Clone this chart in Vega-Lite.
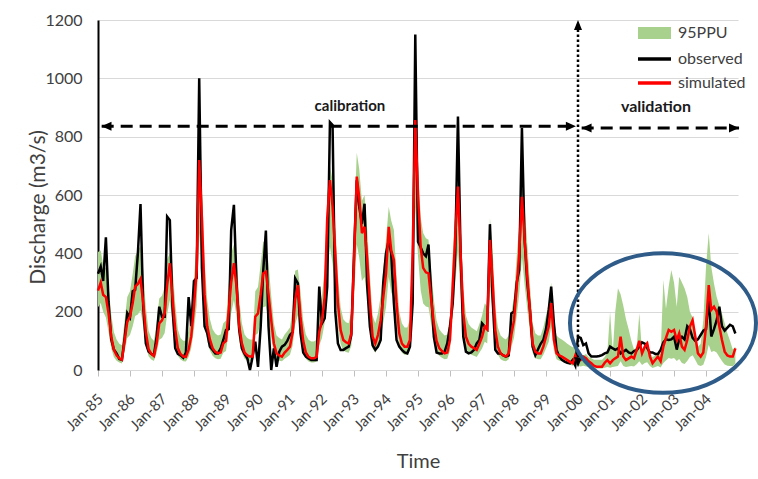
{
"$schema": "https://vega.github.io/schema/vega-lite/v6.json",
"width": 640, "height": 350,
"autosize": {"type": "none"},
"padding": {"left": 98, "top": 20, "right": 20, "bottom": 109},
"background": "white",
"config": {"font": "Lato", "view": {"stroke": null}, "axis": {"labelColor": "#404040", "titleColor": "#404040", "titleFontWeight": "normal"}},
"data": {"values": [
{"d":"1985-01","o":330,"s":272,"l":215,"u":405},{"d":"1985-02","o":355,"s":300,"l":230,"u":410},{"d":"1985-03","o":305,"s":258,"l":200,"u":360},{"d":"1985-04","o":455,"s":250,"l":180,"u":350},{"d":"1985-05","o":235,"s":195,"l":130,"u":290},{"d":"1985-06","o":105,"s":115,"l":75,"u":190},{"d":"1985-07","o":70,"s":70,"l":45,"u":130},{"d":"1985-08","o":57,"s":50,"l":32,"u":105},{"d":"1985-09","o":38,"s":40,"l":26,"u":90},{"d":"1985-10","o":35,"s":35,"l":22,"u":85},{"d":"1985-11","o":110,"s":100,"l":65,"u":170},{"d":"1985-12","o":195,"s":165,"l":110,"u":250},
{"d":"1986-01","o":180,"s":183,"l":120,"u":270},{"d":"1986-02","o":270,"s":230,"l":150,"u":330},{"d":"1986-03","o":275,"s":286,"l":185,"u":390},{"d":"1986-04","o":400,"s":295,"l":190,"u":410},{"d":"1986-05","o":569,"s":312,"l":205,"u":425},{"d":"1986-06","o":217,"s":230,"l":150,"u":340},{"d":"1986-07","o":91,"s":130,"l":85,"u":215},{"d":"1986-08","o":63,"s":72,"l":47,"u":135},{"d":"1986-09","o":55,"s":55,"l":36,"u":110},{"d":"1986-10","o":51,"s":48,"l":31,"u":100},{"d":"1986-11","o":114,"s":90,"l":58,"u":160},{"d":"1986-12","o":217,"s":160,"l":104,"u":245},
{"d":"1987-01","o":183,"s":170,"l":110,"u":255},{"d":"1987-02","o":183,"s":195,"l":127,"u":285},{"d":"1987-03","o":526,"s":290,"l":190,"u":380},{"d":"1987-04","o":514,"s":366,"l":240,"u":400},{"d":"1987-05","o":217,"s":250,"l":160,"u":350},{"d":"1987-06","o":75,"s":140,"l":90,"u":230},{"d":"1987-07","o":55,"s":75,"l":49,"u":140},{"d":"1987-08","o":50,"s":55,"l":36,"u":110},{"d":"1987-09","o":42,"s":46,"l":30,"u":100},{"d":"1987-10","o":60,"s":45,"l":29,"u":100},{"d":"1987-11","o":250,"s":70,"l":45,"u":135},{"d":"1987-12","o":150,"s":115,"l":75,"u":190},
{"d":"1988-01","o":305,"s":217,"l":140,"u":310},{"d":"1988-02","o":315,"s":340,"l":220,"u":450},{"d":"1988-03","o":1000,"s":720,"l":470,"u":770},{"d":"1988-04","o":350,"s":520,"l":340,"u":640},{"d":"1988-05","o":150,"s":260,"l":170,"u":370},{"d":"1988-06","o":126,"s":150,"l":98,"u":240},{"d":"1988-07","o":80,"s":105,"l":68,"u":175},{"d":"1988-08","o":69,"s":75,"l":49,"u":140},{"d":"1988-09","o":57,"s":62,"l":40,"u":125},{"d":"1988-10","o":57,"s":57,"l":37,"u":118},{"d":"1988-11","o":74,"s":60,"l":39,"u":122},{"d":"1988-12","o":103,"s":91,"l":59,"u":160},
{"d":"1989-01","o":137,"s":100,"l":65,"u":170},{"d":"1989-02","o":140,"s":206,"l":134,"u":300},{"d":"1989-03","o":480,"s":300,"l":195,"u":400},{"d":"1989-04","o":566,"s":366,"l":240,"u":430},{"d":"1989-05","o":300,"s":286,"l":185,"u":390},{"d":"1989-06","o":137,"s":150,"l":98,"u":240},{"d":"1989-07","o":74,"s":91,"l":59,"u":160},{"d":"1989-08","o":55,"s":60,"l":39,"u":122},{"d":"1989-09","o":40,"s":50,"l":32,"u":110},{"d":"1989-10","o":0,"s":46,"l":30,"u":105},{"d":"1989-11","o":46,"s":46,"l":30,"u":105},{"d":"1989-12","o":97,"s":183,"l":119,"u":270},
{"d":"1990-01","o":11,"s":194,"l":126,"u":285},{"d":"1990-02","o":150,"s":260,"l":169,"u":365},{"d":"1990-03","o":337,"s":331,"l":215,"u":440},{"d":"1990-04","o":478,"s":337,"l":219,"u":440},{"d":"1990-05","o":150,"s":260,"l":169,"u":365},{"d":"1990-06","o":0,"s":171,"l":111,"u":255},{"d":"1990-07","o":74,"s":91,"l":59,"u":160},{"d":"1990-08","o":11,"s":57,"l":37,"u":118},{"d":"1990-09","o":63,"s":50,"l":32,"u":110},{"d":"1990-10","o":80,"s":46,"l":30,"u":105},{"d":"1990-11","o":86,"s":60,"l":39,"u":122},{"d":"1990-12","o":100,"s":69,"l":45,"u":133},
{"d":"1991-01","o":120,"s":80,"l":52,"u":146},{"d":"1991-02","o":130,"s":130,"l":85,"u":210},{"d":"1991-03","o":314,"s":240,"l":156,"u":340},{"d":"1991-04","o":297,"s":291,"l":189,"u":345},{"d":"1991-05","o":126,"s":183,"l":119,"u":270},{"d":"1991-06","o":60,"s":100,"l":65,"u":170},{"d":"1991-07","o":46,"s":60,"l":39,"u":122},{"d":"1991-08","o":40,"s":45,"l":29,"u":104},{"d":"1991-09","o":34,"s":40,"l":26,"u":98},{"d":"1991-10","o":34,"s":40,"l":26,"u":98},{"d":"1991-11","o":34,"s":45,"l":29,"u":104},{"d":"1991-12","o":286,"s":130,"l":85,"u":210},
{"d":"1992-01","o":160,"s":170,"l":110,"u":255},{"d":"1992-02","o":177,"s":250,"l":163,"u":350},{"d":"1992-03","o":286,"s":520,"l":338,"u":600},{"d":"1992-04","o":850,"s":651,"l":423,"u":700},{"d":"1992-05","o":840,"s":560,"l":364,"u":650},{"d":"1992-06","o":200,"s":400,"l":260,"u":500},{"d":"1992-07","o":91,"s":229,"l":149,"u":325},{"d":"1992-08","o":69,"s":137,"l":89,"u":215},{"d":"1992-09","o":69,"s":103,"l":67,"u":174},{"d":"1992-10","o":75,"s":95,"l":62,"u":164},{"d":"1992-11","o":80,"s":91,"l":59,"u":160},{"d":"1992-12","o":120,"s":126,"l":82,"u":200},
{"d":"1993-01","o":400,"s":377,"l":245,"u":480},{"d":"1993-02","o":650,"s":663,"l":431,"u":745},{"d":"1993-03","o":560,"s":594,"l":386,"u":690},{"d":"1993-04","o":500,"s":469,"l":305,"u":580},{"d":"1993-05","o":570,"s":491,"l":319,"u":600},{"d":"1993-06","o":286,"s":377,"l":245,"u":480},{"d":"1993-07","o":149,"s":229,"l":149,"u":325},{"d":"1993-08","o":85,"s":114,"l":74,"u":187},{"d":"1993-09","o":69,"s":91,"l":59,"u":160},{"d":"1993-10","o":80,"s":120,"l":78,"u":194},{"d":"1993-11","o":103,"s":171,"l":111,"u":255},{"d":"1993-12","o":300,"s":250,"l":163,"u":350},
{"d":"1994-01","o":400,"s":331,"l":215,"u":447},{"d":"1994-02","o":446,"s":491,"l":319,"u":560},{"d":"1994-03","o":400,"s":411,"l":267,"u":513},{"d":"1994-04","o":229,"s":377,"l":245,"u":480},{"d":"1994-05","o":103,"s":229,"l":149,"u":325},{"d":"1994-06","o":80,"s":126,"l":82,"u":200},{"d":"1994-07","o":69,"s":91,"l":59,"u":160},{"d":"1994-08","o":60,"s":80,"l":52,"u":146},{"d":"1994-09","o":57,"s":80,"l":52,"u":146},{"d":"1994-10","o":80,"s":103,"l":67,"u":174},{"d":"1994-11","o":229,"s":400,"l":260,"u":500},{"d":"1994-12","o":1150,"s":857,"l":557,"u":880},
{"d":"1995-01","o":440,"s":600,"l":390,"u":700},{"d":"1995-02","o":420,"s":420,"l":273,"u":524},{"d":"1995-03","o":400,"s":350,"l":228,"u":470},{"d":"1995-04","o":390,"s":335,"l":218,"u":452},{"d":"1995-05","o":430,"s":331,"l":215,"u":447},{"d":"1995-06","o":260,"s":240,"l":156,"u":338},{"d":"1995-07","o":114,"s":160,"l":104,"u":242},{"d":"1995-08","o":60,"s":100,"l":65,"u":170},{"d":"1995-09","o":57,"s":75,"l":49,"u":140},{"d":"1995-10","o":57,"s":65,"l":42,"u":128},{"d":"1995-11","o":63,"s":57,"l":37,"u":118},{"d":"1995-12","o":91,"s":60,"l":39,"u":122},
{"d":"1996-01","o":150,"s":103,"l":67,"u":174},{"d":"1996-02","o":229,"s":286,"l":186,"u":393},{"d":"1996-03","o":400,"s":457,"l":297,"u":560},{"d":"1996-04","o":869,"s":629,"l":409,"u":650},{"d":"1996-05","o":400,"s":400,"l":260,"u":500},{"d":"1996-06","o":114,"s":194,"l":126,"u":283},{"d":"1996-07","o":63,"s":114,"l":74,"u":187},{"d":"1996-08","o":57,"s":90,"l":59,"u":158},{"d":"1996-09","o":60,"s":80,"l":52,"u":146},{"d":"1996-10","o":69,"s":75,"l":49,"u":140},{"d":"1996-11","o":91,"s":69,"l":45,"u":133},{"d":"1996-12","o":103,"s":90,"l":59,"u":158},
{"d":"1997-01","o":160,"s":114,"l":74,"u":187},{"d":"1997-02","o":149,"s":149,"l":97,"u":229},{"d":"1997-03","o":140,"s":140,"l":91,"u":218},{"d":"1997-04","o":500,"s":446,"l":290,"u":520},{"d":"1997-05","o":250,"s":309,"l":201,"u":420},{"d":"1997-06","o":69,"s":137,"l":89,"u":214},{"d":"1997-07","o":57,"s":80,"l":52,"u":146},{"d":"1997-08","o":57,"s":57,"l":37,"u":118},{"d":"1997-09","o":50,"s":50,"l":32,"u":110},{"d":"1997-10","o":46,"s":46,"l":30,"u":105},{"d":"1997-11","o":50,"s":57,"l":37,"u":118},{"d":"1997-12","o":194,"s":120,"l":78,"u":194},
{"d":"1998-01","o":200,"s":171,"l":111,"u":255},{"d":"1998-02","o":300,"s":286,"l":186,"u":393},{"d":"1998-03","o":343,"s":400,"l":260,"u":500},{"d":"1998-04","o":830,"s":594,"l":386,"u":640},{"d":"1998-05","o":450,"s":450,"l":293,"u":560},{"d":"1998-06","o":300,"s":320,"l":208,"u":434},{"d":"1998-07","o":206,"s":206,"l":134,"u":297},{"d":"1998-08","o":80,"s":91,"l":59,"u":160},{"d":"1998-09","o":51,"s":63,"l":41,"u":126},{"d":"1998-10","o":70,"s":57,"l":37,"u":118},{"d":"1998-11","o":90,"s":57,"l":37,"u":118},{"d":"1998-12","o":103,"s":80,"l":52,"u":146},
{"d":"1999-01","o":140,"s":114,"l":74,"u":187},{"d":"1999-02","o":206,"s":149,"l":97,"u":229},{"d":"1999-03","o":286,"s":229,"l":149,"u":300},{"d":"1999-04","o":160,"s":103,"l":67,"u":174},{"d":"1999-05","o":69,"s":57,"l":37,"u":118},{"d":"1999-06","o":46,"s":50,"l":32,"u":110},{"d":"1999-07","o":35,"s":46,"l":30,"u":105},{"d":"1999-08","o":29,"s":40,"l":26,"u":98},{"d":"1999-09","o":25,"s":34,"l":22,"u":90},{"d":"1999-10","o":23,"s":28,"l":18,"u":84},{"d":"1999-11","o":34,"s":23,"l":15,"u":78},{"d":"1999-12","o":15,"s":50,"l":20,"u":80},
{"d":"2000-01","o":114,"s":34,"l":15,"u":60},{"d":"2000-02","o":110,"s":34,"l":12,"u":55},{"d":"2000-03","o":85,"s":46,"l":15,"u":50},{"d":"2000-04","o":91,"s":40,"l":12,"u":55},{"d":"2000-05","o":57,"s":30,"l":10,"u":45},{"d":"2000-06","o":46,"s":23,"l":8,"u":40},{"d":"2000-07","o":46,"s":15,"l":6,"u":35},{"d":"2000-08","o":46,"s":11,"l":5,"u":35},{"d":"2000-09","o":48,"s":11,"l":5,"u":35},{"d":"2000-10","o":51,"s":11,"l":5,"u":35},{"d":"2000-11","o":57,"s":25,"l":8,"u":45},{"d":"2000-12","o":60,"s":34,"l":10,"u":60},
{"d":"2001-01","o":80,"s":23,"l":8,"u":200},{"d":"2001-02","o":74,"s":34,"l":10,"u":60},{"d":"2001-03","o":69,"s":40,"l":12,"u":200},{"d":"2001-04","o":74,"s":46,"l":14,"u":280},{"d":"2001-05","o":57,"s":114,"l":30,"u":260},{"d":"2001-06","o":63,"s":46,"l":14,"u":220},{"d":"2001-07","o":69,"s":34,"l":10,"u":175},{"d":"2001-08","o":60,"s":40,"l":12,"u":140},{"d":"2001-09","o":57,"s":46,"l":14,"u":100},{"d":"2001-10","o":65,"s":40,"l":12,"u":70},{"d":"2001-11","o":68,"s":69,"l":20,"u":80},{"d":"2001-12","o":80,"s":100,"l":30,"u":195},
{"d":"2002-01","o":95,"s":57,"l":17,"u":60},{"d":"2002-02","o":90,"s":80,"l":24,"u":90},{"d":"2002-03","o":75,"s":91,"l":27,"u":100},{"d":"2002-04","o":60,"s":46,"l":14,"u":60},{"d":"2002-05","o":60,"s":23,"l":7,"u":45},{"d":"2002-06","o":55,"s":35,"l":10,"u":50},{"d":"2002-07","o":55,"s":46,"l":14,"u":60},{"d":"2002-08","o":69,"s":30,"l":9,"u":55},{"d":"2002-09","o":95,"s":80,"l":24,"u":309},{"d":"2002-10","o":105,"s":110,"l":33,"u":210},{"d":"2002-11","o":103,"s":137,"l":41,"u":286},{"d":"2002-12","o":105,"s":131,"l":39,"u":343},
{"d":"2003-01","o":114,"s":137,"l":41,"u":300},{"d":"2003-02","o":70,"s":103,"l":31,"u":217},{"d":"2003-03","o":105,"s":126,"l":38,"u":320},{"d":"2003-04","o":114,"s":80,"l":24,"u":300},{"d":"2003-05","o":105,"s":69,"l":21,"u":280},{"d":"2003-06","o":150,"s":103,"l":31,"u":250},{"d":"2003-07","o":140,"s":149,"l":45,"u":200},{"d":"2003-08","o":110,"s":171,"l":51,"u":180},{"d":"2003-09","o":100,"s":114,"l":34,"u":120},{"d":"2003-10","o":105,"s":57,"l":17,"u":80},{"d":"2003-11","o":120,"s":46,"l":14,"u":90},{"d":"2003-12","o":135,"s":60,"l":18,"u":171},
{"d":"2004-01","o":140,"s":149,"l":45,"u":354},{"d":"2004-02","o":250,"s":291,"l":87,"u":470},{"d":"2004-03","o":115,"s":206,"l":62,"u":354},{"d":"2004-04","o":140,"s":217,"l":65,"u":297},{"d":"2004-05","o":170,"s":200,"l":60,"u":251},{"d":"2004-06","o":217,"s":149,"l":45,"u":220},{"d":"2004-07","o":150,"s":103,"l":31,"u":194},{"d":"2004-08","o":135,"s":63,"l":19,"u":160},{"d":"2004-09","o":145,"s":50,"l":15,"u":126},{"d":"2004-10","o":155,"s":46,"l":14,"u":100},{"d":"2004-11","o":150,"s":46,"l":14,"u":70},{"d":"2004-12","o":125,"s":74,"l":22,"u":80}
]},
"layer": [
{"mark": {"type": "area", "opacity": 1},
 "encoding": {
  "x": {"field": "d", "type": "temporal",
        "scale": {"domain": [{"year": 1985, "month": 1, "date": 1}, {"year": 2004, "month": 12, "date": 31}]},
        "axis": {"title": "Time", "format": "%b-%y", "tickCount": {"interval": "year", "step": 1}, "labelAngle": -45, "labelAlign": "right", "labelBaseline": "middle", "labelFontSize": 15, "labelPadding": 20, "labelOffset": 2, "labelOverlap": false, "labelFlush": false, "domainColor": "#d9d9d9", "tickColor": "#bfbfbf", "tickSize": 6, "grid": false, "titleFontSize": 20, "titlePadding": 18}},
  "y": {"field": "l", "type": "quantitative",
        "scale": {"domain": [0, 1200]},
        "axis": {"title": "Discharge (m3/s)", "format": "d", "values": [0, 200, 400, 600, 800, 1000, 1200], "labelFontSize": 16, "labelPadding": 16, "ticks": false, "tickSize": 0, "domainColor": "#000000", "domainWidth": 2, "gridColor": "#d9d9d9", "titleFontSize": 21, "titleX": -50, "titleY": 187, "titleAngle": 270, "titleAlign": "center", "titleBaseline": "bottom"}},
  "y2": {"field": "u"},
  "fill": {"datum": "95PPU", "scale": {"range": ["#A9D18E"]},
           "legend": {"title": null, "orient": "none", "legendX": 548.5, "legendY": 5, "symbolType": "M-3.3,-1.2H3.3V1.2H-3.3Z", "symbolSize": 100, "symbolStrokeWidth": 0, "symbolOpacity": 1, "labelFontSize": 16, "labelOffset": 15.5, "labelColor": "#404040", "padding": 0}}
 }},
{"mark": {"type": "line", "strokeWidth": 2.5},
 "encoding": {
  "x": {"field": "d", "type": "temporal"},
  "y": {"field": "o", "type": "quantitative"},
  "stroke": {"datum": "observed", "scale": {"domain": ["observed", "simulated"], "range": ["#000000", "#FF0000"]},
             "legend": {"title": null, "orient": "none", "legendX": 548.5, "legendY": 31, "symbolType": "M-3.3,0H3.3", "symbolSize": 100, "symbolStrokeWidth": 3.5, "labelFontSize": 16, "labelOffset": 15.5, "labelColor": "#404040", "rowPadding": 8, "padding": 0}}
 }},
{"mark": {"type": "line", "strokeWidth": 2.5},
 "encoding": {
  "x": {"field": "d", "type": "temporal"},
  "y": {"field": "s", "type": "quantitative"},
  "stroke": {"datum": "simulated"}
 }},
{"data": {"values": [{}]},
 "mark": {"type": "rule", "strokeDash": [12, 7], "strokeWidth": 3, "color": "#000000"},
 "encoding": {"x": {"datum": {"year": 1985, "month": 2, "date": 12}, "type": "temporal"}, "x2": {"datum": {"year": 1999, "month": 12, "date": 7}}, "y": {"datum": 836}}},
{"data": {"values": [{}]},
 "mark": {"type": "rule", "strokeDash": [12, 7], "strokeWidth": 3, "color": "#000000"},
 "encoding": {"x": {"datum": {"year": 2000, "month": 2, "date": 12}, "type": "temporal"}, "x2": {"datum": {"year": 2005, "month": 1, "date": 12}}, "y": {"datum": 830}}},
{"data": {"values": [{}]},
 "mark": {"type": "rule", "strokeDash": [2.5, 2.5], "strokeWidth": 2.5, "color": "#000000"},
 "encoding": {"x": {"datum": {"year": 2000, "month": 1, "date": 1}, "type": "temporal"}, "y": {"datum": 1185}, "y2": {"datum": 20}}},
{"data": {"values": [{}]},
 "mark": {"type": "point", "shape": "M-1,0L1,-0.9L1,0.9Z", "size": 100, "filled": true, "color": "#000000", "opacity": 1},
 "encoding": {"x": {"datum": {"year": 1985, "month": 4, "date": 8}, "type": "temporal"}, "y": {"datum": 836}}},
{"data": {"values": [{}]},
 "mark": {"type": "point", "shape": "M1,0L-1,-0.9L-1,0.9Z", "size": 100, "filled": true, "color": "#000000", "opacity": 1},
 "encoding": {"x": {"datum": {"year": 1999, "month": 10, "date": 12}, "type": "temporal"}, "y": {"datum": 836}}},
{"data": {"values": [{}]},
 "mark": {"type": "point", "shape": "M-1,0L1,-0.9L1,0.9Z", "size": 100, "filled": true, "color": "#000000", "opacity": 1},
 "encoding": {"x": {"datum": {"year": 2000, "month": 4, "date": 8}, "type": "temporal"}, "y": {"datum": 830}}},
{"data": {"values": [{}]},
 "mark": {"type": "point", "shape": "M1,0L-1,-0.9L-1,0.9Z", "size": 100, "filled": true, "color": "#000000", "opacity": 1},
 "encoding": {"x": {"datum": {"year": 2004, "month": 11, "date": 15}, "type": "temporal"}, "y": {"datum": 830}}},
{"data": {"values": [{}]},
 "mark": {"type": "point", "shape": "M0,-1L-0.8,1L0.8,1Z", "size": 100, "filled": true, "color": "#000000", "opacity": 1},
 "encoding": {"x": {"datum": {"year": 2000, "month": 1, "date": 1}, "type": "temporal"}, "y": {"datum": 1183}}},
{"data": {"values": [{}]},
 "mark": {"type": "point", "shape": "M0,1L-0.8,-1L0.8,-1Z", "size": 100, "filled": true, "color": "#000000", "opacity": 1},
 "encoding": {"x": {"datum": {"year": 2000, "month": 1, "date": 1}, "type": "temporal"}, "y": {"datum": 27}}},
{"data": {"values": [{}]},
 "mark": {"type": "text", "text": "calibration", "font": "Lato", "fontSize": 15, "fontWeight": "bold", "color": "#1a1a1a", "baseline": "middle", "align": "center"},
 "encoding": {"x": {"datum": {"year": 1992, "month": 11, "date": 15}, "type": "temporal"}, "y": {"datum": 905}}},
{"data": {"values": [{}]},
 "mark": {"type": "text", "text": "validation", "font": "Lato", "fontSize": 16, "fontWeight": "bold", "color": "#1a1a1a", "baseline": "middle", "align": "center"},
 "encoding": {"x": {"datum": {"year": 2002, "month": 6, "date": 8}, "type": "temporal"}, "y": {"datum": 902}}},
{"data": {"values": [{}]},
 "mark": {"type": "point", "shape": "M-1,0A1,0.75 0 1,1 1,0A1,0.75 0 1,1 -1,0Z", "size": 34596, "filled": false, "stroke": "#2E5B88", "strokeWidth": 4, "opacity": 1},
 "encoding": {"x": {"datum": {"year": 2002, "month": 8, "date": 28}, "type": "temporal"}, "y": {"datum": 161}}}
]
}
